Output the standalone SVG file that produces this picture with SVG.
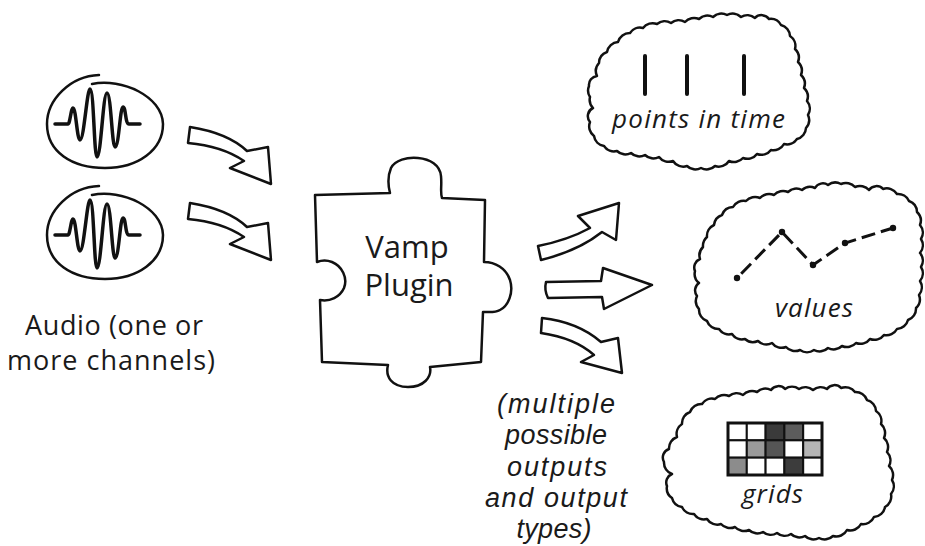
<svg xmlns="http://www.w3.org/2000/svg" width="925" height="546" viewBox="0 0 925 546">
  <style>
    .ink { fill: none; stroke: #111; stroke-width: 2.5; stroke-linejoin: round; stroke-linecap: round; }
    .shape { fill: #fff; stroke: #111; stroke-width: 2.5; stroke-linejoin: round; stroke-linecap: round; }
    .wave { fill: none; stroke: #111; stroke-width: 3.5; stroke-linejoin: round; stroke-linecap: round; }
    .bar { stroke: #111; stroke-width: 4; stroke-linecap: round; }
    .label { font-family: "Open Sans", "Liberation Sans", sans-serif; fill: #1a1a1a; }
    .note { font-family: "Liberation Sans", "Open Sans", sans-serif; font-style: italic; fill: #1a1a1a; }
    .it { font-style: italic; }
    .cell { stroke: #111; stroke-width: 2; }
  </style>
  <defs>
    <!-- one audio channel: hand-drawn loop around a waveform burst -->
    <g id="channel">
      <path class="ink" d="M92,84 C122,78 162,96 163,124 C163,150 138,168 105,168 C72,168 47,152 47,124 C47,100 70,76 99,75"/>
      <path class="wave" d="M55,124 L68,124 C70,124 71,108 73,108 C76,108 77,140 80,140 C84,140 87,89 90,89 C94,89 94,157 97,157 C101,157 103,93 107,93 C111,93 112,147 115,147 C119,147 120,107 123,107 C126,107 125,124 129,124 L140,124"/>
    </g>
    <path id="inArrow" d="M190,127 Q228,133 247,151 L268,147 L271,184 L230,168 L244,161 Q222,146 188,143 Z"/>
  </defs>

  <rect width="925" height="546" fill="#fff"/>

  <!-- audio input -->
  <g id="audio">
    <use href="#channel"/>
    <use href="#channel" transform="translate(0,111)"/>
    <text class="label" font-size="27" text-anchor="middle" x="114" y="335" textLength="178">Audio (one or</text>
    <text class="label" font-size="27" text-anchor="middle" x="111" y="370" textLength="208">more channels)</text>
  </g>

  <!-- plugin puzzle piece -->
  <g id="plugin">
    <path class="shape" d="M315,195 L390,193 C388,185 388,175 391,168 C395,160 407,157 418,158 C430,159 440,165 441,176 C442,186 440,192 442,198 L485,200 L484,262 C495,262 506,268 510,280 C514,293 508,306 500,310 C495,313 489,312 483,312 L481,362 L430,367 C432,377 424,387 408,387 C392,387 385,377 388,365 L322,362 L320,300 C330,302 340,297 344,288 C348,278 342,266 332,262 C327,260 322,260 317,262 Z"/>
    <text class="label" font-size="31" text-anchor="middle" x="407" y="258">Vamp</text>
    <text class="label" font-size="31" text-anchor="middle" x="409" y="296">Plugin</text>
  </g>

  <!-- block arrows -->
  <g id="connectors">
    <use href="#inArrow" class="shape"/>
    <use href="#inArrow" class="shape" transform="translate(0,76)"/>
    <path class="shape" d="M538,246 Q568,240 590,228 L578,216 L619,203 L616,240 L602,232 Q578,251 541,260 Z"/>
    <path class="shape" d="M546,282 L601,281 L603,268 L652,285 L604,309 L602,297 L548,298 Q544,290 546,282 Z"/>
    <path class="shape" d="M542,318 Q578,322 601,342 L618,338 L622,373 L581,362 L594,355 Q575,338 541,333 Z"/>
  </g>

  <!-- output type: points in time -->
  <g id="points">
    <path class="ink" d="M630,33 A12,12 0 0 1 643,28 A12,12 0 0 1 657,24 A12,12 0 0 1 671,23 A12,12 0 0 1 685,22 A12,12 0 0 1 699,19 A12,12 0 0 1 713,17 A12,12 0 0 1 727,15 A12,12 0 0 1 741,17 A12,12 0 0 1 755,18 A9,9 0 0 1 769,19 A12,12 0 0 1 781,25 A12,12 0 0 1 790,36 A12,12 0 0 1 795,49 A12,12 0 0 1 798,62 A12,12 0 0 1 801,75 A12,12 0 0 1 804,88 A12,12 0 0 1 807,101 A12,12 0 0 1 808,115 A12,12 0 0 1 806,128 A12,12 0 0 1 797,139 A12,12 0 0 1 784,144 A12,12 0 0 1 771,150 A12,12 0 0 1 757,154 A12,12 0 0 1 743,158 A12,12 0 0 1 729,161 A12,12 0 0 1 715,166 A12,12 0 0 1 701,168 A12,12 0 0 1 687,166 A12,12 0 0 1 673,161 A12,12 0 0 1 659,157 A12,12 0 0 1 645,155 A12,12 0 0 1 631,153 A12,12 0 0 1 617,151 A12,12 0 0 1 604,146 A12,12 0 0 1 594,136 A12,12 0 0 1 590,122 A9,9 0 0 1 593,108 A12,12 0 0 1 590,97 A12,12 0 0 1 589,86 A9,9 0 0 1 597,76 A12,12 0 0 1 599,63 A12,12 0 0 1 607,52 A12,12 0 0 1 618,42 A12,12 0 0 1 630,33 Z"/>
    <line class="bar" x1="645" y1="56" x2="645" y2="94"/>
    <line class="bar" x1="687" y1="56" x2="687" y2="94"/>
    <line class="bar" x1="744" y1="56" x2="744" y2="94"/>
    <text class="label it" font-size="26" x="612" y="128" textLength="173">points in time</text>
  </g>

  <!-- output type: values -->
  <g id="values">
    <path class="ink" d="M707,237 A12,12 0 0 1 714,225 A12,12 0 0 1 722,215 A12,12 0 0 1 733,207 A12,12 0 0 1 746,201 A12,12 0 0 1 760,198 A12,12 0 0 1 774,195 A12,12 0 0 1 788,192 A12,12 0 0 1 802,190 A12,12 0 0 1 815,188 A9,9 0 0 1 828,185 A12,12 0 0 1 841,184 A12,12 0 0 1 855,187 A12,12 0 0 1 869,190 A9,9 0 0 1 883,189 A12,12 0 0 1 897,194 A12,12 0 0 1 909,201 A12,12 0 0 1 917,212 A12,12 0 0 1 920,225 A12,12 0 0 1 921,239 A12,12 0 0 1 920,253 A12,12 0 0 1 921,267 A12,12 0 0 1 920,281 A12,12 0 0 1 919,295 A12,12 0 0 1 916,308 A12,12 0 0 1 908,320 A12,12 0 0 1 897,329 A12,12 0 0 1 884,335 A12,12 0 0 1 870,339 A12,12 0 0 1 856,343 A12,12 0 0 1 842,346 A12,12 0 0 1 828,348 A12,12 0 0 1 814,350 A12,12 0 0 1 800,350 A12,12 0 0 1 786,347 A12,12 0 0 1 772,343 A12,12 0 0 1 758,341 A12,12 0 0 1 745,339 A12,12 0 0 1 732,334 A12,12 0 0 1 719,329 A12,12 0 0 1 707,321 A12,12 0 0 1 699,309 A12,12 0 0 1 697,296 A9,9 0 0 1 699,283 A12,12 0 0 1 695,271 A9,9 0 0 1 700,259 A12,12 0 0 1 703,247 A12,12 0 0 1 707,237 Z"/>
    <polyline fill="none" stroke="#111" stroke-width="3" stroke-dasharray="14 6" stroke-dashoffset="-6" points="737,278 782,232 813,265 845,243 893,228"/>
    <g fill="#111">
      <circle cx="737" cy="278" r="3.2"/>
      <circle cx="782" cy="232" r="3.2"/>
      <circle cx="813" cy="265" r="3.2"/>
      <circle cx="845" cy="243" r="3.2"/>
      <circle cx="893" cy="228" r="3.2"/>
    </g>
    <text class="label it" font-size="26" x="775" y="317" textLength="78">values</text>
  </g>

  <!-- output type: grids -->
  <g id="grids">
    <path class="ink" d="M690,412 A12,12 0 0 1 702,404 A12,12 0 0 1 715,399 A12,12 0 0 1 729,396 A12,12 0 0 1 743,395 A12,12 0 0 1 757,392 A12,12 0 0 1 771,390 A9,9 0 0 1 785,389 A12,12 0 0 1 799,389 A12,12 0 0 1 813,390 A12,12 0 0 1 827,389 A9,9 0 0 1 841,388 A12,12 0 0 1 855,392 A12,12 0 0 1 867,400 A12,12 0 0 1 876,411 A12,12 0 0 1 881,424 A12,12 0 0 1 884,438 A12,12 0 0 1 887,452 A12,12 0 0 1 889,466 A12,12 0 0 1 892,480 A12,12 0 0 1 891,494 A12,12 0 0 1 885,507 A12,12 0 0 1 874,517 A12,12 0 0 1 861,524 A12,12 0 0 1 847,530 A12,12 0 0 1 833,536 A12,12 0 0 1 819,538 A12,12 0 0 1 805,536 A12,12 0 0 1 791,534 A12,12 0 0 1 777,533 A12,12 0 0 1 763,532 A12,12 0 0 1 749,530 A12,12 0 0 1 735,527 A12,12 0 0 1 721,524 A12,12 0 0 1 707,519 A12,12 0 0 1 694,514 A12,12 0 0 1 682,507 A12,12 0 0 1 672,498 A12,12 0 0 1 667,486 A9,9 0 0 1 672,474 A12,12 0 0 1 664,462 A9,9 0 0 1 669,449 A12,12 0 0 1 677,437 A12,12 0 0 1 682,424 A12,12 0 0 1 690,412 Z"/>
    <g class="cell">
      <rect x="728" y="423" width="18.8" height="17.33" fill="#fff"/>
      <rect x="746.8" y="423" width="18.8" height="17.33" fill="#fff"/>
      <rect x="765.6" y="423" width="18.8" height="17.33" fill="#3a3a3a"/>
      <rect x="784.4" y="423" width="18.8" height="17.33" fill="#5c5c5c"/>
      <rect x="803.2" y="423" width="18.8" height="17.33" fill="#fff"/>
      <rect x="728" y="440.33" width="18.8" height="17.33" fill="#fff"/>
      <rect x="746.8" y="440.33" width="18.8" height="17.33" fill="#9a9a9a"/>
      <rect x="765.6" y="440.33" width="18.8" height="17.33" fill="#555"/>
      <rect x="784.4" y="440.33" width="18.8" height="17.33" fill="#fff"/>
      <rect x="803.2" y="440.33" width="18.8" height="17.33" fill="#b5b5b5"/>
      <rect x="728" y="457.67" width="18.8" height="17.33" fill="#8c8c8c"/>
      <rect x="746.8" y="457.67" width="18.8" height="17.33" fill="#fff"/>
      <rect x="765.6" y="457.67" width="18.8" height="17.33" fill="#fff"/>
      <rect x="784.4" y="457.67" width="18.8" height="17.33" fill="#3c3c3c"/>
      <rect x="803.2" y="457.67" width="18.8" height="17.33" fill="#fff"/>
    </g>
    <rect x="728" y="423" width="94" height="52" fill="none" stroke="#111" stroke-width="3"/>
    <text class="label it" font-size="26" x="742" y="503" textLength="61">grids</text>
  </g>

  <!-- note under the outputs -->
  <g id="note" class="note" font-size="27" text-anchor="middle">
    <text x="556" y="413" textLength="118">(multiple</text>
    <text x="556" y="444" textLength="102">possible</text>
    <text x="557" y="476" textLength="100">outputs</text>
    <text x="556" y="507" textLength="142">and output</text>
    <text x="554" y="538" textLength="75">types)</text>
  </g>
</svg>
